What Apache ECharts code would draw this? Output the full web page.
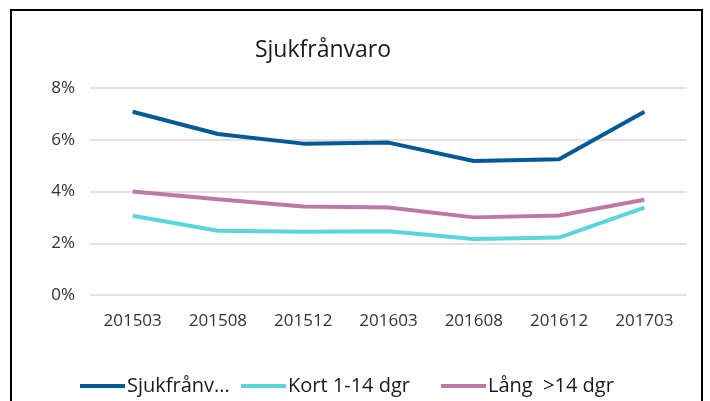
<!DOCTYPE html>
<html>
<head>
<meta charset="utf-8">
<script src="https://cdn.jsdelivr.net/npm/echarts@6/dist/echarts.min.js"></script>
<style>
    html, body { margin: 0; padding: 0; background: #fff; }
    #chart { width: 710px; height: 401px; }
</style>
</head>
<body>
<div id="chart"></div>
<script>
// categories (period)
const periods = ["201503", "201508", "201512", "201603", "201608", "201612", "201703"];
// series values, percent
const total = [7.08, 6.22, 5.85, 5.89, 5.18, 5.25, 7.08];
const shortLeave = [3.06, 2.48, 2.44, 2.46, 2.16, 2.22, 3.38];
const longLeave = [4.0, 3.7, 3.42, 3.38, 3.0, 3.07, 3.68];
// names
const seriesNames = ["Sjukfrånvaro", "Kort 1-14 dgr", "Lång  >14 dgr"];
const legendLabels = ["Sjukfrånv...", "Kort 1-14 dgr", "Lång  >14 dgr"];
const colors = ["#005A96", "#5BD5DC", "#BE78A6"];

const FONT = "Open Sans";
const LEGEND_X = [75, 236, 436]; // legend entry positions
const chart = echarts.init(document.getElementById("chart"));

const mkLine = (name, data, color) => ({
    name: name,
    type: "line",
    data: data,
    symbol: "none",
    lineStyle: { width: 4, color: color },
    itemStyle: { color: color }
});

// one legend per entry, Excel-like columns
const legends = seriesNames.map((n, i) => ({
    data: [n],
    left: LEGEND_X[i],
    top: 371,
    itemWidth: 45,
    itemHeight: 4,
    icon: "rect",
    formatter: () => legendLabels[i],
    textStyle: { fontFamily: FONT, fontSize: 20, color: "#1a1a1a", padding: [0, 0, 0, -3] }
}));

chart.setOption({
    animation: false,
    backgroundColor: "#fff",
    title: {
        text: "Sjukfrånvaro",
        left: 318,
        textAlign: "center",
        top: 34,
        textStyle: { fontFamily: FONT, fontSize: 23, fontWeight: "normal", color: "#1a1a1a" }
    },
    graphic: [{
        type: "rect",
        shape: { x: 11, y: 10, width: 691, height: 420 },
        style: { fill: null, stroke: "#000", lineWidth: 2 }
    }],
    legend: legends,
    grid: { left: 90, right: 23, top: 88, bottom: 106 },
    xAxis: {
        type: "category",
        data: periods,
        boundaryGap: true,
        axisLine: { show: false },
        axisTick: { show: false },
        axisLabel: { margin: 18, fontFamily: FONT, fontSize: 17, color: "#333" }
    },
    yAxis: {
        type: "value",
        min: 0,
        max: 8,
        interval: 2,
        axisLine: { show: false },
        axisTick: { show: false },
        splitLine: { lineStyle: { color: "#d9d9d9", width: 1.5 } },
        axisLabel: { formatter: "{value}%", margin: 15, fontFamily: FONT, fontSize: 17, color: "#333" }
    },
    series: [
        mkLine(seriesNames[0], total, colors[0]),
        mkLine(seriesNames[1], shortLeave, colors[1]),
        mkLine(seriesNames[2], longLeave, colors[2])
    ]
});
</script>
</body>
</html>
